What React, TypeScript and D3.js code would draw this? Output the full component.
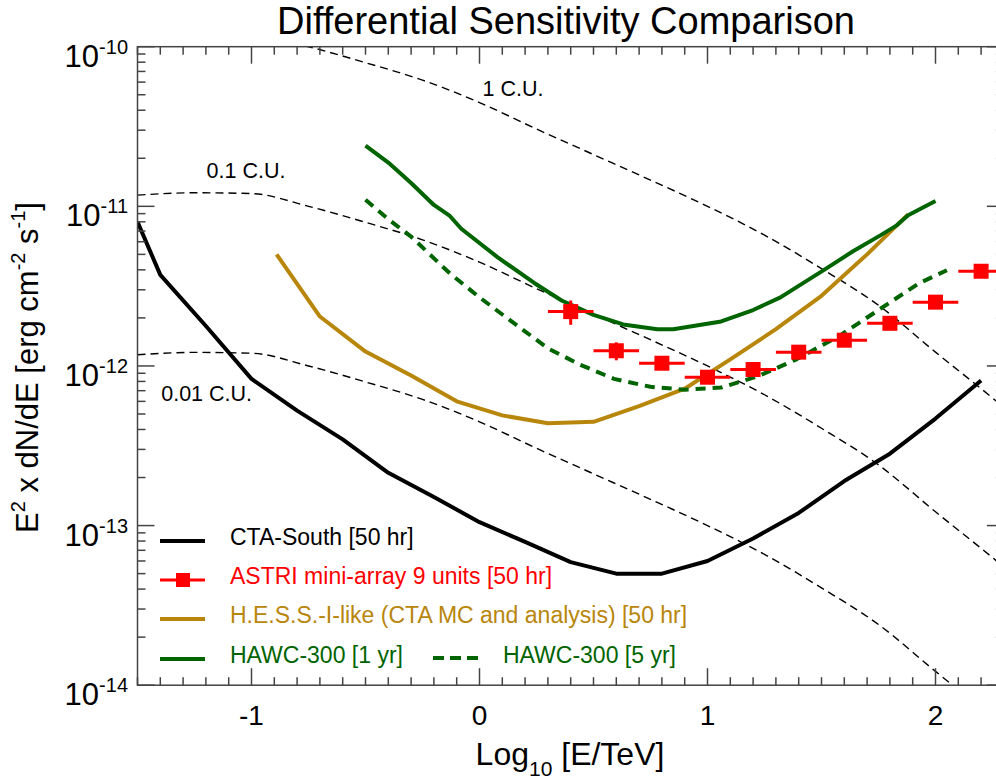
import React, { useEffect, useRef } from 'react';
import * as d3 from 'd3';

// log10(E/TeV) grid of the Crab reference spectrum, E^2 dN/dE at 1 C.U. [erg cm^-2 s^-1]
const crabX = [-1.5, -1.25, -1.0, -0.75, -0.5, -0.25, 0, 0.25, 0.5, 0.75, 1.0, 1.25, 1.5, 1.75, 2.0, 2.25, 2.3];
const crabY = [1.175e-10, 1.216e-10, 1.202e-10, 1.0e-10, 7.94e-11, 6.17e-11, 4.47e-11, 3.05e-11, 2.11e-11,
  1.46e-11, 1.0e-11, 6.6e-12, 4.07e-12, 2.4e-12, 1.22e-12, 6.3e-13, 5.5e-13];
const crabUnits = [1, 0.1, 0.01];
const crabLabels = ['1 C.U.', '0.1 C.U.', '0.01 C.U.'];
// where each C.U. label sits: [log10(E/TeV), flux]
const crabLabelAt = [[0.013, 4.9e-11], [-1.197, 1.5e-11], [-1.396, 6.0e-13]];

// CTA-South [50 hr]
const ctaX = [-1.5, -1.4, -1.2, -1.0, -0.8, -0.6, -0.4, -0.2, 0, 0.2, 0.4, 0.6, 0.8, 1.0, 1.2, 1.4, 1.6, 1.8, 2.0, 2.2];
const ctaY = [8.0e-12, 3.72e-12, 1.78e-12, 8.3e-13, 5.25e-13, 3.47e-13, 2.14e-13, 1.51e-13, 1.05e-13, 7.9e-14,
  5.9e-14, 5.0e-14, 5.0e-14, 6.0e-14, 8.3e-14, 1.2e-13, 1.9e-13, 2.82e-13, 4.68e-13, 8.1e-13];

// H.E.S.S.-I-like (CTA MC and analysis) [50 hr]
const hessX = [-0.89, -0.7, -0.5, -0.3, -0.1, 0.1, 0.3, 0.5, 0.7, 0.9, 1.1, 1.3, 1.5, 1.7, 1.88];
const hessY = [5.0e-12, 2.04e-12, 1.23e-12, 8.7e-13, 6.0e-13, 4.9e-13, 4.37e-13, 4.47e-13, 5.6e-13, 7.2e-13,
  1.1e-12, 1.7e-12, 2.75e-12, 5.0e-12, 8.9e-12];

// HAWC-300 [1 yr]
const hawc1X = [-0.5, -0.4, -0.3, -0.2, -0.13, -0.08, 0.08, 0.24, 0.36, 0.5, 0.63, 0.78, 0.85, 1.06, 1.2, 1.32,
  1.52, 1.64, 1.76, 1.83, 1.88, 2.0];
const hawc1Y = [2.4e-11, 1.88e-11, 1.4e-11, 1.02e-11, 8.7e-12, 7.24e-12, 4.79e-12, 3.31e-12, 2.57e-12, 2.09e-12,
  1.82e-12, 1.7e-12, 1.7e-12, 1.9e-12, 2.24e-12, 2.69e-12, 4.07e-12, 5.25e-12, 6.6e-12, 7.6e-12, 8.8e-12, 1.08e-11];

// HAWC-300 [5 yr]
const hawc5X = [-0.5, -0.4, -0.3, -0.13, 0.0, 0.12, 0.3, 0.44, 0.59, 0.75, 0.9, 1.06, 1.22, 1.39, 1.58, 1.76, 1.93, 2.05];
const hawc5Y = [1.1e-11, 8.3e-12, 6.46e-12, 3.8e-12, 2.69e-12, 2.0e-12, 1.29e-12, 1.02e-12, 8.3e-13, 7.4e-13,
  7.1e-13, 7.33e-13, 8.6e-13, 1.1e-12, 1.55e-12, 2.29e-12, 3.31e-12, 3.98e-12];

// ASTRI mini-array 9 units [50 hr]
const astriX = [0.4, 0.6, 0.8, 1.0, 1.2, 1.4, 1.6, 1.8, 2.0, 2.2];
const astriY = [2.19e-12, 1.245e-12, 1.04e-12, 8.5e-13, 9.5e-13, 1.22e-12, 1.45e-12, 1.85e-12, 2.51e-12, 3.92e-12];
const astriErr = [0.38e-12, 0.16e-12, 0.05e-12, 0.04e-12, 0.05e-12, 0.06e-12, 0.07e-12, 0.09e-12, 0.12e-12, 0.2e-12];
const astriHalfBin = 0.1;

const xMajor = [-1, 0, 1, 2];
const yDecades = [-14, -13, -12, -11, -10];

const FONT = '"Liberation Sans", Arial, Helvetica, sans-serif';
const GOLD = '#b8860b';
const GREEN = '#006400';
const RED = '#ff0000';

const App: React.FC = () => {
  const svgRef = useRef<SVGSVGElement>(null);

  useEffect(() => {
    if (!svgRef.current) return;
    const W = 996;
    const H = 782;
    const left = 137.5, right = 1003.9, top = 46.7, bottom = 685.2;

    d3.select(svgRef.current).selectAll('*').remove();
    const svg = d3.select(svgRef.current)
      .attr('width', W)
      .attr('height', H)
      .style('font-family', FONT);

    const x = d3.scaleLinear().domain([-1.5, 2.3]).range([left, right]);
    const y = d3.scaleLog().domain([1e-14, 1e-10]).range([bottom, top]);

    svg.append('defs').append('clipPath').attr('id', 'plot-clip')
      .append('rect')
      .attr('x', left).attr('y', top)
      .attr('width', right - left).attr('height', bottom - top);

    const plot = svg.append('g').attr('clip-path', 'url(#plot-clip)');

    const line = d3.line<[number, number]>()
      .x(d => x(d[0]))
      .y(d => y(d[1]));
    const zip = (xs: number[], ys: number[]) => xs.map((v, i) => [v, ys[i]] as [number, number]);

    // Crab unit curves
    crabUnits.forEach(u => {
      plot.append('path')
        .attr('d', line.curve(d3.curveMonotoneX)(zip(crabX, crabY.map(v => v * u))))
        .attr('fill', 'none')
        .attr('stroke', '#000')
        .attr('stroke-width', 1.4)
        .attr('stroke-dasharray', '8,5');
    });
    line.curve(d3.curveLinear);

    const curve = (xs: number[], ys: number[], color: string, dash?: string) => {
      const p = plot.append('path')
        .attr('d', line(zip(xs, ys)))
        .attr('fill', 'none')
        .attr('stroke', color)
        .attr('stroke-width', 4)
        .attr('stroke-linejoin', 'round');
      if (dash) p.attr('stroke-dasharray', dash);
    };

    curve(ctaX, ctaY, '#000');
    curve(hessX, hessY, GOLD);
    curve(hawc1X, hawc1Y, GREEN);
    curve(hawc5X, hawc5Y, GREEN, '10,7');

    // ASTRI points with error bars
    const astri = plot.append('g').attr('stroke', RED).attr('stroke-width', 3).attr('fill', RED);
    astriX.forEach((xv, i) => {
      const cy = y(astriY[i]);
      astri.append('line')
        .attr('x1', x(xv - astriHalfBin)).attr('x2', x(xv + astriHalfBin))
        .attr('y1', cy).attr('y2', cy);
      astri.append('line')
        .attr('x1', x(xv)).attr('x2', x(xv))
        .attr('y1', y(astriY[i] - astriErr[i])).attr('y2', y(astriY[i] + astriErr[i]));
      astri.append('rect')
        .attr('x', x(xv) - 7.5).attr('y', cy - 7.5)
        .attr('width', 15).attr('height', 15)
        .attr('stroke', 'none');
    });

    // C.U. labels
    crabLabelAt.forEach((p, i) => {
      svg.append('text')
        .attr('x', x(p[0])).attr('y', y(p[1]))
        .style('font-size', '21.5px')
        .attr('fill', '#000')
        .text(crabLabels[i]);
    });

    // Frame and ticks
    const axis = svg.append('g').attr('stroke', '#444').attr('stroke-width', 1.5);
    axis.append('rect')
      .attr('x', left).attr('y', top)
      .attr('width', right - left).attr('height', bottom - top)
      .attr('fill', 'none');

    const xMinor = d3.range(-15, 24).map(v => v / 10);
    xMinor.forEach(v => {
      const len = xMajor.some(m => Math.abs(m - v) < 1e-6) ? 17 : 8;
      axis.append('line').attr('x1', x(v)).attr('x2', x(v)).attr('y1', bottom).attr('y2', bottom - len);
      axis.append('line').attr('x1', x(v)).attr('x2', x(v)).attr('y1', top).attr('y2', top + len);
    });

    yDecades.forEach(dec => {
      const mults = dec === -10 ? [1] : d3.range(1, 10);
      mults.forEach(m => {
        const v = m * Math.pow(10, dec);
        const len = m === 1 ? 17 : 8;
        axis.append('line').attr('x1', left).attr('x2', left + len).attr('y1', y(v)).attr('y2', y(v));
        axis.append('line').attr('x1', right).attr('x2', right - len).attr('y1', y(v)).attr('y2', y(v));
      });
    });

    // Tick labels
    xMajor.forEach(v => {
      svg.append('text')
        .attr('x', x(v)).attr('y', 725)
        .attr('text-anchor', 'middle')
        .style('font-size', '28px')
        .text(v < 0 ? `-${Math.abs(v)}` : `${v}`);
    });

    yDecades.forEach(dec => {
      const t = svg.append('text')
        .attr('x', 128).attr('y', y(Math.pow(10, dec)) + 20)
        .attr('text-anchor', 'end')
        .style('font-size', '31px');
      t.append('tspan').text('10');
      t.append('tspan').attr('dy', -13).style('font-size', '20px').text(`${dec}`);
    });

    // Axis titles
    const xt = svg.append('text')
      .attr('x', 570).attr('y', 765)
      .attr('text-anchor', 'middle')
      .style('font-size', '32px');
    xt.append('tspan').text('Log');
    xt.append('tspan').attr('dy', 11).style('font-size', '21px').text('10');
    xt.append('tspan').attr('dy', -11).text(' [E/TeV]');

    const yt = svg.append('text')
      .attr('transform', 'translate(38,367.5) rotate(-90)')
      .attr('text-anchor', 'middle')
      .style('font-size', '31px');
    yt.append('tspan').text('E');
    yt.append('tspan').attr('dy', -13).style('font-size', '20px').text('2');
    yt.append('tspan').attr('dy', 13).text(' x dN/dE [erg cm');
    yt.append('tspan').attr('dy', -13).style('font-size', '20px').text('-2');
    yt.append('tspan').attr('dy', 13).text(' s');
    yt.append('tspan').attr('dy', -13).style('font-size', '20px').text('-1');
    yt.append('tspan').attr('dy', 13).text(']');

    svg.append('text')
      .attr('x', 566).attr('y', 34)
      .attr('text-anchor', 'middle')
      .style('font-size', '38px')
      .text('Differential Sensitivity Comparison');

    // Legend
    const lg = svg.append('g');
    const rows = [
      { label: 'CTA-South [50 hr]', color: '#000', y: 545 },
      { label: 'ASTRI mini-array 9 units [50 hr]', color: RED, y: 584 },
      { label: 'H.E.S.S.-I-like (CTA MC and analysis) [50 hr]', color: GOLD, y: 623 },
      { label: 'HAWC-300 [1 yr]', color: GREEN, y: 663 }
    ];
    rows.forEach((r, i) => {
      lg.append('line')
        .attr('x1', 160).attr('x2', 205)
        .attr('y1', r.y - 4).attr('y2', r.y - 4)
        .attr('stroke', r.color)
        .attr('stroke-width', i === 1 ? 3 : 4);
      if (i === 1) {
        lg.append('rect')
          .attr('x', 176).attr('y', r.y - 11)
          .attr('width', 14).attr('height', 14)
          .attr('fill', RED);
      }
      lg.append('text')
        .attr('x', 230).attr('y', r.y)
        .attr('fill', r.color)
        .style('font-size', '23px')
        .text(r.label);
    });
    lg.append('line')
      .attr('x1', 433).attr('x2', 479)
      .attr('y1', 658).attr('y2', 658)
      .attr('stroke', GREEN)
      .attr('stroke-width', 4)
      .attr('stroke-dasharray', '11,6');
    lg.append('text')
      .attr('x', 503).attr('y', 663)
      .attr('fill', GREEN)
      .style('font-size', '23px')
      .text('HAWC-300 [5 yr]');
  }, []);

  return (
    <svg
      ref={svgRef}
      style={{ position: 'absolute', left: 0, top: 0, background: '#fff' }}
    />
  );
};

export default App;
